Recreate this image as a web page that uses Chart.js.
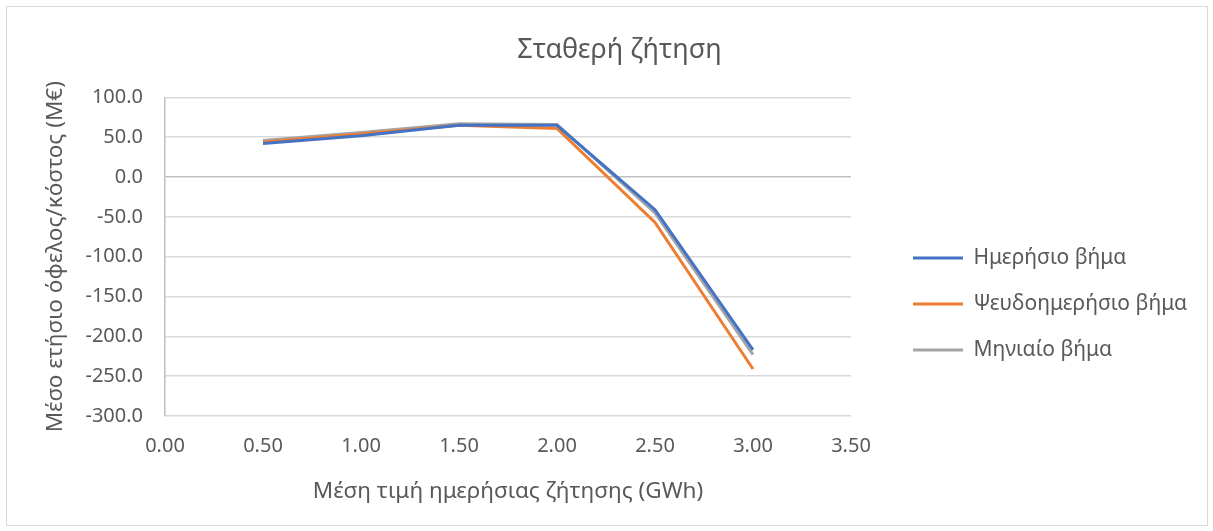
<!DOCTYPE html>
<html>
<head>
<meta charset="utf-8">
<script src="https://cdn.jsdelivr.net/npm/chart.js@4"></script>
<style>
	body { margin: 0; background: #fff; }
	#box {
		position: absolute; left: 6px; top: 6px;
		width: 1200px; height: 518px;
		border: 1px solid #d9d9d9;
	}
</style>
</head>
<body>
<div id="box"><canvas id="chart" width="1200" height="518"></canvas></div>
<script>
// === Data ===
const xValues = [0.5, 1.0, 1.5, 2.0, 2.5, 3.0];
const dailyStep = [42, 52, 65, 65, -41, -217];
const pseudoDailyStep = [44, 54, 65, 61, -57, -241];
const monthlyStep = [46, 56, 67, 66, -45, -223];
const seriesNames = ["Ημερήσιο βήμα", "Ψευδοημερήσιο βήμα", "Μηνιαίο βήμα"];

const FONT = "'Noto Sans', 'Open Sans', sans-serif";
const GREY_TEXT = "#595959";

function toPoints(arr) {
	return arr.map((v, i) => ({ x: xValues[i], y: v }));
}

function makeSet(label, data, color) {
	return {
		label: label,
		data: toPoints(data),
		borderColor: color,
		backgroundColor: color,
		borderWidth: 3,
		pointRadius: 0,
		tension: 0,
	};
}

// legend: fixed width, then nudge it right/down a bit
const legendTweak = {
	id: "legendTweak",
	beforeInit(chart) {
		const fit = chart.legend.fit;
		chart.legend.fit = function () {
			fit.bind(chart.legend)();
			this.width = 346;
		};
	},
	afterLayout(chart) {
		const lg = chart.legend;
		lg.left += 37;
		lg.right += 37;
		lg.top += 43;
		lg.bottom += 43;
	},
};

new Chart(document.getElementById("chart"), {
	type: "line",
	data: {
		datasets: [
			makeSet(seriesNames[0], dailyStep, "#4472C4"),
			makeSet(seriesNames[1], pseudoDailyStep, "#ED7D31"),
			makeSet(seriesNames[2], monthlyStep, "#A5A5A5"),
		],
	},
	plugins: [legendTweak],
	options: {
		responsive: false,
		animation: false,
		layout: { padding: { left: 35, right: 10, top: 10, bottom: 20 } },
		plugins: {
			title: {
				display: true,
				text: "Σταθερή ζήτηση",
				color: GREY_TEXT,
				font: { family: FONT, size: 27, weight: "normal" },
				padding: { top: 17, bottom: 31 },
			},
			legend: {
				position: "right",
				labels: {
					color: GREY_TEXT,
					font: { family: FONT, size: 21 },
					boxWidth: 50,
					boxHeight: 3,
					padding: 25,
					generateLabels(chart) {
						return chart.data.datasets.map((ds, i) => ({
							text: ds.label,
							fillStyle: ds.borderColor,
							strokeStyle: ds.borderColor,
							lineWidth: 0,
							fontColor: GREY_TEXT,
							datasetIndex: i,
						}));
					},
				},
			},
			tooltip: { enabled: false },
		},
		scales: {
			x: {
				type: "linear",
				min: 0,
				max: 3.5,
				afterFit(scale) {
					scale.height = 89;
				},
				ticks: {
					stepSize: 0.5,
					color: GREY_TEXT,
					font: { family: FONT, size: 20 },
					callback: (v) => v.toFixed(2),
					padding: 18,
				},
				grid: { display: false, drawTicks: false },
				border: { display: false },
				title: {
					display: true,
					text: "Μέση τιμή ημερήσιας ζήτησης (GWh)",
					color: GREY_TEXT,
					font: { family: FONT, size: 22.5 },
					padding: { top: 1, bottom: 0 },
				},
			},
			y: {
				min: -300,
				max: 100,
				afterFit(scale) {
					scale.width = 123;
				},
				ticks: {
					stepSize: 50,
					color: GREY_TEXT,
					font: { family: FONT, size: 20 },
					callback: (v) => v.toFixed(1),
					padding: 22,
				},
				grid: {
					drawTicks: false,
					color: (ctx) => (ctx.tick && ctx.tick.value === 0 ? "#bfbfbf" : "#d9d9d9"),
					lineWidth: 1.5,
				},
				border: { display: true, color: "#bfbfbf", width: 1.5 },
				title: {
					display: true,
					text: "Μέσο ετήσιο όφελος/κόστος (Μ€)",
					color: GREY_TEXT,
					font: { family: FONT, size: 22.5 },
					padding: { top: 0, bottom: 0 },
				},
			},
		},
	},
});
</script>
</body>
</html>
